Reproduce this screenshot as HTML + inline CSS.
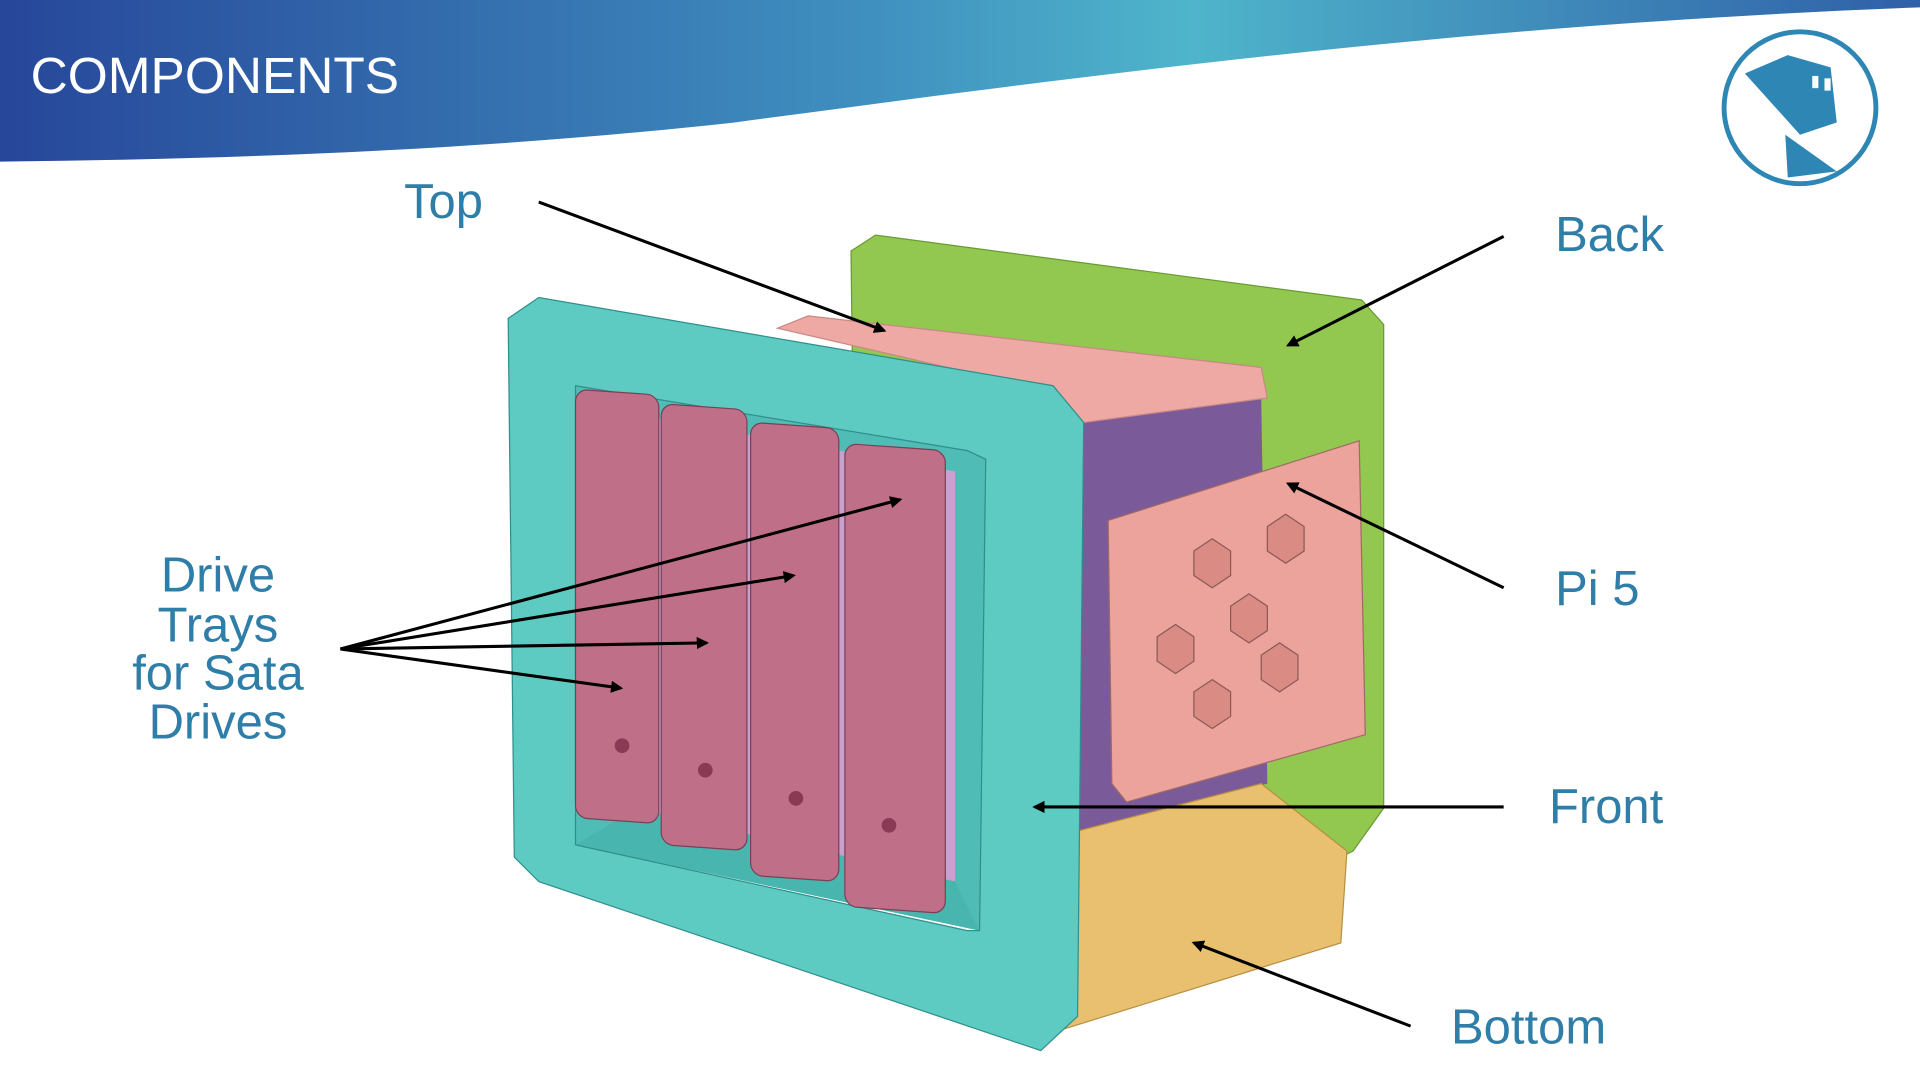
<!DOCTYPE html>
<html><head><meta charset="utf-8">
<style>
html,body{margin:0;padding:0;background:#fff;width:1920px;height:1080px;overflow:hidden}
svg{display:block}
.lbl{font-family:"Liberation Sans",sans-serif;fill:#2f7ea8;font-size:40px}
</style></head>
<body>
<svg width="1920" height="1080" viewBox="0 0 1568 882" xmlns="http://www.w3.org/2000/svg">
<defs>
<linearGradient id="hg" x1="0" x2="1" y1="0" y2="0">
<stop offset="0" stop-color="#27479a"/><stop offset="0.45" stop-color="#3f8fbf"/><stop offset="0.62" stop-color="#4fb5cb"/><stop offset="1" stop-color="#2f5fa8"/>
</linearGradient>
<marker id="ah" markerWidth="10" markerHeight="10" refX="8" refY="5" orient="auto" markerUnits="userSpaceOnUse"><path d="M0,0 L10,5 L0,10 Z" fill="#000"/></marker>
</defs>
<path d="M0,0 H1568 V6 C1200,20 900,60 600,100 C400,122 200,130 0,132 Z" fill="url(#hg)"/>
<text x="25" y="76" font-family="Liberation Sans, sans-serif" font-size="42" fill="#fff">COMPONENTS</text>
<g>
<circle cx="1470" cy="88" r="62" fill="#fff" stroke="#2e86b5" stroke-width="4"/>
<path d="M1425,60 L1460,45 L1495,55 L1500,100 L1470,110 Z" fill="#2e86b5"/>
<path d="M1458,110 L1500,140 L1460,145 Z" fill="#2e86b5"/>
<rect x="1480" y="62" width="5" height="10" fill="#fff"/><rect x="1490" y="64" width="5" height="10" fill="#fff"/>
</g>
<g>
<polygon points="695,205 715,192 1112,245 1130,265 1130,660 1105,695 1095,700 700,620" fill="#92c84f" stroke="#6a9a30"/>
<polygon points="880,345 1030,325 1035,640 880,680" fill="#7b5a9a"/>
<polygon points="635,268 660,258 1030,300 1035,325 885,345 860,320" fill="#eea9a5" stroke="#c88884"/>
<polygon points="875,680 1030,640 1100,695 1095,770 870,840" fill="#e8c070" stroke="#b89040"/>
<polygon points="905,425 1110,360 1115,600 920,655 908,640" fill="#eca39b" stroke="#a06a66"/>
<g fill="#d98b84" stroke="#8a5a56">
<polygon points="975,450 990,440 1005,450 1005,470 990,480 975,470"/>
<polygon points="1035,430 1050,420 1065,430 1065,450 1050,460 1035,450"/>
<polygon points="1005,495 1020,485 1035,495 1035,515 1020,525 1005,515"/>
<polygon points="945,520 960,510 975,520 975,540 960,550 945,540"/>
<polygon points="1030,535 1045,525 1060,535 1060,555 1045,565 1030,555"/>
<polygon points="975,565 990,555 1005,565 1005,585 990,595 975,585"/>
</g>
<polygon points="470,315 790,368 805,375 800,760 470,690" fill="#4fbdb5"/>
<polygon points="500,335 780,385 780,720 500,660" fill="#c9a0d0"/>
<polygon points="470,690 520,660 780,720 800,760" fill="#48b5ae"/>
<path fill-rule="evenodd" fill="#5ecbc3" stroke="#2f8f8a" d="M415,260 L440,243 L860,315 L885,345 L880,830 L850,858 L440,720 L420,700 Z M470,315 L470,690 L790,760 L800,760 L805,375 L790,368 Z"/>
<g fill="#bf7088" stroke="#7a4055">
<rect x="470" y="318" width="68" height="350" rx="10" transform="skewY(4) translate(0,-33)"/>
<rect x="540" y="330" width="70" height="360" rx="10" transform="skewY(4) translate(0,-38)"/>
<rect x="613" y="345" width="72" height="370" rx="10" transform="skewY(4) translate(0,-43)"/>
<rect x="690" y="362" width="82" height="378" rx="10" transform="skewY(4) translate(0,-48)"/>
</g>
<g fill="#8a3a55"><circle cx="508" cy="609" r="6"/><circle cx="576" cy="629" r="6"/><circle cx="650" cy="652" r="6"/><circle cx="726" cy="674" r="6"/></g>
</g>
<g stroke="#000" stroke-width="2.5" marker-end="url(#ah)">
<line x1="440" y1="165" x2="722" y2="270"/>
<line x1="1228" y1="193" x2="1052" y2="282"/>
<line x1="1228" y1="480" x2="1052" y2="395"/>
<line x1="1228" y1="659" x2="845" y2="659"/>
<line x1="1152" y1="838" x2="975" y2="770"/>
<line x1="278" y1="530" x2="735" y2="408"/>
<line x1="278" y1="530" x2="648" y2="470"/>
<line x1="278" y1="530" x2="577" y2="525"/>
<line x1="278" y1="530" x2="507" y2="562"/>
</g>
<text class="lbl" x="330" y="178">Top</text>
<text class="lbl" x="1270" y="205">Back</text>
<text class="lbl" x="1270" y="494">Pi 5</text>
<text class="lbl" x="1265" y="672">Front</text>
<text class="lbl" x="1185" y="852">Bottom</text>
<g text-anchor="middle">
<text class="lbl" x="178" y="483">Drive</text>
<text class="lbl" x="178" y="524">Trays</text>
<text class="lbl" x="178" y="563">for Sata</text>
<text class="lbl" x="178" y="603">Drives</text>
</g>
</svg>
</body></html>
